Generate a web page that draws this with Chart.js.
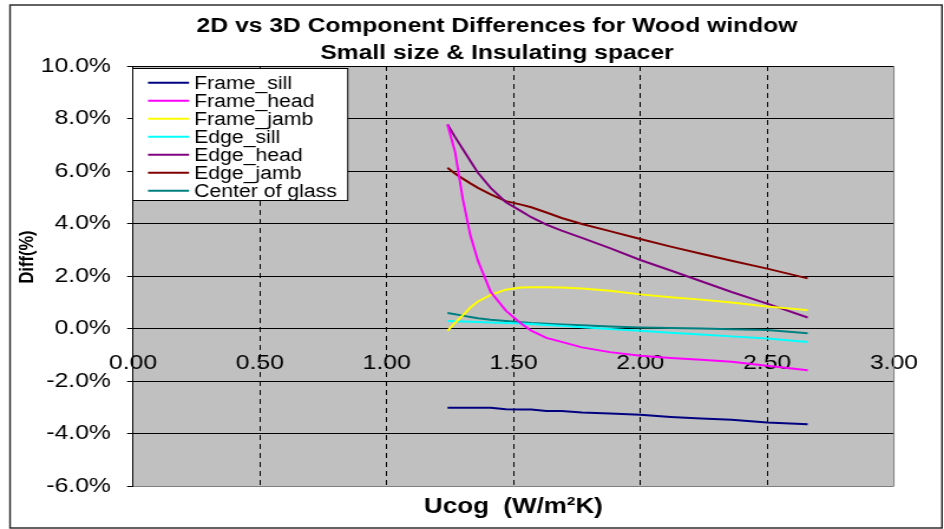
<!DOCTYPE html>
<html><head><meta charset="utf-8">
<script src="https://cdn.jsdelivr.net/npm/chart.js@4.4.1/dist/chart.umd.min.js"></script>
<style>
html,body{margin:0;padding:0;background:#fff;overflow:hidden;}
#wrap{position:absolute;left:0;top:0;width:800px;height:529px;transform:scaleX(1.18);transform-origin:0 0;}
canvas{display:block;}
</style></head><body>
<div id="wrap"><canvas id="c" width="800" height="529"></canvas></div>
<script>
// ---- data ----
const titleLines = ['2D vs 3D Component Differences for Wood window', 'Small size & Insulating spacer'];
const xAxisTitle = 'Ucog  (W/m\u00B2K)';
const yAxisTitle = 'Diff(%)';
const seriesNames = ['Frame_sill', 'Frame_head', 'Frame_jamb', 'Edge_sill', 'Edge_head', 'Edge_jamb', 'Center of glass'];

const ucog = [1.24, 1.27, 1.30, 1.33, 1.36, 1.41, 1.47, 1.53, 1.57, 1.63, 1.69, 1.77, 1.88, 2.00, 2.12, 2.24, 2.36, 2.50, 2.66];

const frameSill  = [-3.02, -3.02, -3.02, -3.02, -3.02, -3.02, -3.08, -3.09, -3.09, -3.14, -3.14, -3.20, -3.24, -3.29, -3.37, -3.43, -3.48, -3.58, -3.65];
const frameHead  = [7.77, 6.72, 4.95, 3.55, 2.58, 1.40, 0.68, 0.19, -0.08, -0.36, -0.51, -0.72, -0.90, -1.04, -1.12, -1.19, -1.27, -1.42, -1.59];
const frameJamb  = [-0.09, 0.22, 0.50, 0.80, 1.03, 1.28, 1.48, 1.56, 1.57, 1.57, 1.56, 1.52, 1.44, 1.30, 1.19, 1.10, 0.99, 0.84, 0.70];
const edgeSill   = [0.29, 0.28, 0.27, 0.26, 0.25, 0.23, 0.21, 0.19, 0.17, 0.13, 0.10, 0.05, -0.02, -0.09, -0.16, -0.23, -0.30, -0.38, -0.51];
const edgeHead   = [7.77, 7.29, 6.84, 6.38, 5.93, 5.36, 4.81, 4.47, 4.24, 3.96, 3.73, 3.45, 3.06, 2.61, 2.21, 1.80, 1.39, 0.95, 0.42];
const edgeJamb   = [6.12, 5.90, 5.71, 5.53, 5.36, 5.11, 4.85, 4.72, 4.62, 4.42, 4.21, 3.98, 3.71, 3.41, 3.12, 2.85, 2.58, 2.28, 1.91];
const centerGlass= [0.59, 0.54, 0.49, 0.44, 0.39, 0.33, 0.29, 0.24, 0.21, 0.18, 0.15, 0.12, 0.08, 0.04, 0.02, 0.00, -0.03, -0.06, -0.18];

const xMin = 0, xMax = 3, xStep = 0.5;
const yMin = -6, yMax = 10, yStep = 2;

// ---- chart ----
const FONT = "'Liberation Sans', Arial, Helvetica, sans-serif";
const seriesValues = [frameSill, frameHead, frameJamb, edgeSill, edgeHead, edgeJamb, centerGlass];
const seriesColors = ['#000080', '#FF00FF', '#FFFF00', '#00FFFF', '#800080', '#800000', '#008080'];

const datasets = seriesValues.map((vals, k) => ({
  label: seriesNames[k],
  data: ucog.map((x, i) => ({x: x, y: vals[i]})),
  showLine: true,
  borderColor: seriesColors[k],
  backgroundColor: seriesColors[k],
  borderWidth: 2,
  pointRadius: 0,
  pointHoverRadius: 0,
  tension: 0,
  fill: false
}));

const deco = {
  id: 'deco',
  beforeDraw(chart) {
    const {ctx, chartArea: a} = chart;
    ctx.save();
    ctx.fillStyle = '#fff';
    ctx.fillRect(0, 0, chart.width, chart.height);
    ctx.strokeStyle = '#222';
    ctx.lineWidth = 1.4;
    ctx.strokeRect(8.5, 5, 789.8, 523);
    ctx.fillStyle = '#c0c0c0';
    ctx.fillRect(a.left, a.top, a.right - a.left, a.bottom - a.top);
    ctx.restore();
  },
  beforeDatasetsDraw(chart) {
    const {ctx, chartArea: a} = chart;
    ctx.save();
    ctx.strokeStyle = '#808080';
    ctx.lineWidth = 1;
    ctx.beginPath();
    ctx.moveTo(a.right, a.top);
    ctx.lineTo(a.right, a.bottom);
    ctx.stroke();
    ctx.restore();
  },
  afterDatasetsDraw(chart) {
    const {ctx, chartArea: a} = chart;
    ctx.save();
    // title
    ctx.fillStyle = '#000';
    ctx.textAlign = 'center';
    ctx.textBaseline = 'middle';
    ctx.font = 'bold 20.9px ' + FONT;
    titleLines.forEach((t, i) => ctx.fillText(t, 421.2, 26.5 + 26.5 * i));
    // legend
    const lx = 112.5, ly = 68.5, lw = 182.2, lh = 132;
    ctx.fillStyle = '#fff';
    ctx.fillRect(lx, ly, lw, lh);
    ctx.strokeStyle = '#000';
    ctx.lineWidth = 1;
    ctx.strokeRect(lx, ly, lw, lh);
    ctx.font = '18px ' + FONT;
    ctx.textAlign = 'left';
    ctx.textBaseline = 'middle';
    chart.data.datasets.forEach((ds, i) => {
      const y = 82.7 + 18 * i;
      ctx.strokeStyle = ds.borderColor;
      ctx.lineWidth = 2;
      ctx.beginPath();
      ctx.moveTo(125.4, y);
      ctx.lineTo(160.2, y);
      ctx.stroke();
      ctx.fillStyle = '#000';
      ctx.fillText(ds.label, 164.4, y + 1);
    });
    // axis titles
    ctx.fillStyle = '#000';
    ctx.textAlign = 'center';
    ctx.textBaseline = 'middle';
    ctx.font = 'bold 22px ' + FONT;
    ctx.fillText(xAxisTitle, (a.left + a.right) / 2, 507);
    ctx.translate(23.7, 257);
    ctx.rotate(-Math.PI / 2);
    ctx.font = 'bold 16.5px ' + FONT;
    ctx.fillText(yAxisTitle, 0, 0);
    ctx.restore();
  }
};

new Chart(document.getElementById('c'), {
  type: 'scatter',
  data: {datasets: datasets},
  plugins: [deco],
  options: {
    responsive: false,
    animation: false,
    events: [],
    layout: {padding: {left: 0, right: 26.3, top: 66, bottom: 43}},
    plugins: {
      legend: {display: false},
      tooltip: {enabled: false},
      title: {display: false}
    },
    scales: {
      x: {
        type: 'linear',
        position: {y: 0},
        min: xMin, max: xMax,
        ticks: {
          stepSize: xStep, autoSkip: false, maxRotation: 0,
          callback: v => Number(v).toFixed(2),
          color: '#000', font: {family: FONT, size: 21}, padding: 22
        },
        grid: {
          color: c => (c.tick && (c.tick.value === xMin || c.tick.value === xMax)) ? 'rgba(0,0,0,0)' : '#000',
          lineWidth: 1,
          drawTicks: false
        },
        border: {display: true, color: '#000', width: 1, dash: [5, 4]}
      },
      y: {
        type: 'linear',
        position: 'left',
        min: yMin, max: yMax,
        ticks: {
          stepSize: yStep,
          callback: v => Number(v).toFixed(1) + '%',
          color: '#000', font: {family: FONT, size: 21}, padding: 13.7
        },
        grid: {
          color: c => (c.tick && c.tick.value === yMin) ? '#808080' : '#000',
          tickColor: '#000', tickLength: 5, lineWidth: 1
        },
        border: {display: true, color: '#000', width: 1},
        afterFit: s => { s.width = 112.7; }
      }
    }
  }
});
</script>
</body></html>
